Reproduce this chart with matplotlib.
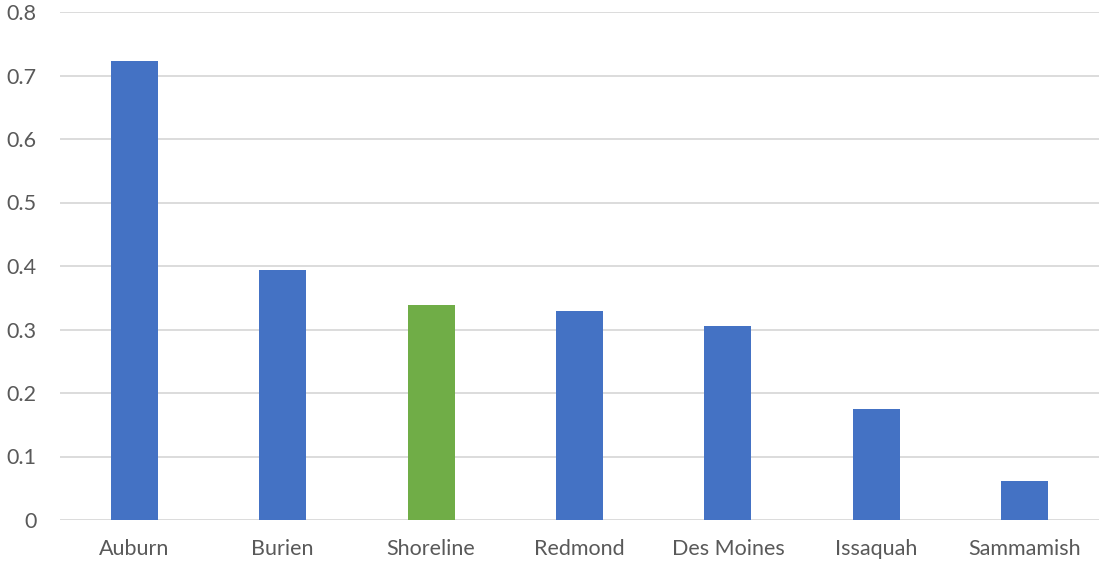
import matplotlib
matplotlib.use("Agg")
import matplotlib.pyplot as plt

categories = ["Auburn", "Burien", "Shoreline", "Redmond", "Des Moines", "Issaquah", "Sammamish"]
values = [0.723, 0.394, 0.338, 0.329, 0.305, 0.175, 0.061]
colors = ["#4472C4", "#4472C4", "#70AD47", "#4472C4", "#4472C4", "#4472C4", "#4472C4"]
yticks = [0, 0.1, 0.2, 0.3, 0.4, 0.5, 0.6, 0.7, 0.8]
ytick_labels = ["0", "0.1", "0.2", "0.3", "0.4", "0.5", "0.6", "0.7", "0.8"]

plt.rcParams['font.family'] = ['Lato', 'DejaVu Sans']

fig = plt.figure(figsize=(10.99, 5.62), dpi=100)
ax = fig.add_axes([60/1099, 42/562, (1099-60)/1099, (520-12)/562])

x = list(range(len(categories)))
ax.bar(x, values, width=0.316, color=colors, zorder=3)

ax.set_xlim(-0.5, len(categories) - 0.5)
ax.set_ylim(0, 0.8)
ax.set_yticks(yticks)
ax.set_yticklabels(ytick_labels)
ax.set_xticks(x)
ax.set_xticklabels(categories)

ax.grid(axis='y', color='#D9D9D9', linewidth=1.3, zorder=0)
for s in ax.spines.values():
    s.set_visible(False)
ax.tick_params(axis='both', length=0, labelsize=15.5, colors='#595959')
ax.tick_params(axis='y', pad=17)
ax.tick_params(axis='x', pad=14)

fig.savefig("out.png", dpi=100)
